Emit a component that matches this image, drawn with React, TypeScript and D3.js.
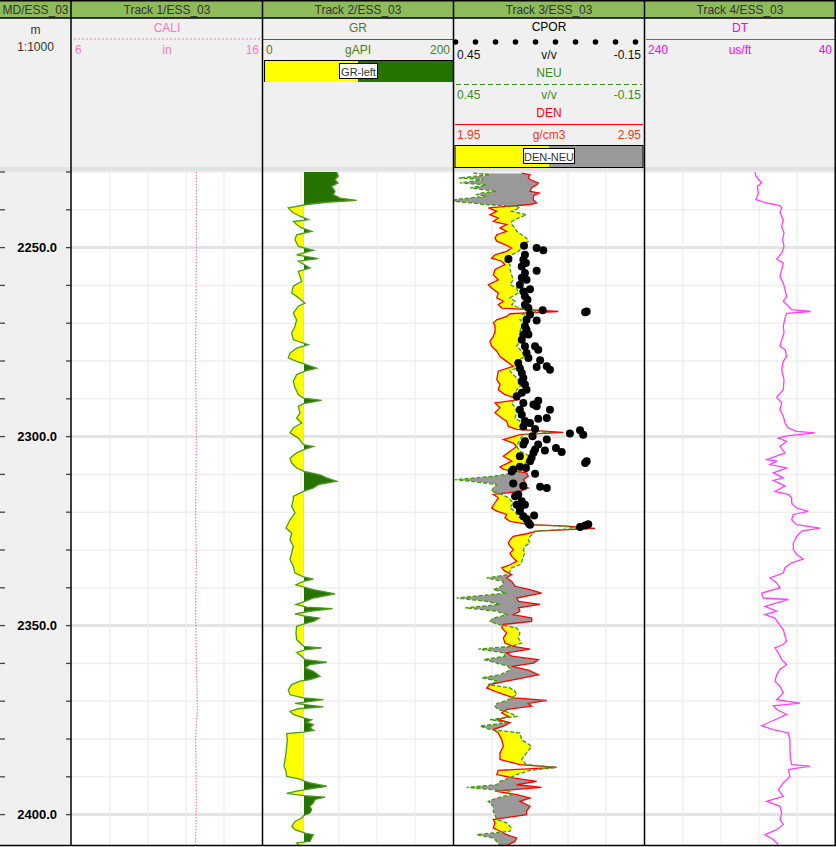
import { useEffect, useRef } from 'react'
import * as d3 from 'd3'

const TITLES = ['MD/ESS_03', 'Track 1/ESS_03', 'Track 2/ESS_03', 'Track 3/ESS_03', 'Track 4/ESS_03']
const DEPTH_LABELS = [2250, 2300, 2350, 2400]
const DEPTH_RANGE = [2230, 2408]

const CALI = [
  [2230, 12.55], [2250, 12.55], [2280, 12.5], [2300, 12.55], [2320, 12.5], [2333, 12.55],
  [2345, 12.5], [2360, 12.55], [2372, 12.6], [2380, 12.5], [2395, 12.55], [2408, 12.5],
]

const GR_CUTOFF = 43
const GR = [
  [2230.0, 77.5], [2231.1, 79.3], [2232.0, 75.8], [2232.9, 79.0], [2233.8, 72.3], [2235.1, 75.8],
  [2236.0, 74.0], [2236.9, 81.0], [2237.5, 98.6], [2238.0, 67.0], [2238.6, 46.0], [2239.5, 26.6],
  [2240.0, 28.4], [2240.8, 31.9], [2241.7, 38.9], [2242.6, 47.7], [2243.1, 31.9], [2243.9, 35.4],
  [2244.8, 40.7], [2245.7, 51.2], [2246.6, 35.4], [2247.9, 33.7], [2249.7, 37.2], [2250.7, 53.0],
  [2251.9, 35.4], [2252.9, 58.2], [2253.6, 37.2], [2255.4, 49.5], [2256.3, 37.2], [2257.6, 38.9],
  [2258.9, 40.7], [2260.2, 31.9], [2262.0, 30.2], [2262.9, 35.4], [2264.7, 44.2], [2265.5, 37.2],
  [2267.3, 31.9], [2269.1, 35.4], [2270.8, 33.7], [2272.6, 30.2], [2274.4, 31.9], [2275.7, 47.7],
  [2276.6, 35.4], [2277.9, 28.4], [2279.2, 26.6], [2280.1, 35.4], [2280.7, 42.5], [2281.9, 56.5],
  [2282.7, 44.2], [2283.6, 35.4], [2285.4, 31.9], [2287.1, 33.7], [2288.9, 37.2], [2289.8, 42.5],
  [2290.4, 61.7], [2291.3, 42.5], [2292.0, 37.2], [2293.8, 38.9], [2295.1, 35.4], [2296.4, 40.7],
  [2297.7, 31.9], [2299.0, 28.4], [2300.4, 37.2], [2302.1, 42.5], [2302.6, 53.0], [2303.5, 42.5],
  [2304.3, 35.4], [2305.7, 28.4], [2307.0, 30.2], [2308.3, 35.4], [2309.2, 43.2], [2310.1, 60.0],
  [2310.9, 67.0], [2311.8, 77.5], [2312.7, 58.2], [2313.6, 53.0], [2314.5, 42.5], [2315.8, 31.9],
  [2316.7, 31.9], [2318.4, 30.2], [2320.2, 33.7], [2322.0, 28.4], [2324.2, 24.2], [2325.5, 30.2],
  [2327.3, 28.4], [2329.0, 31.9], [2330.8, 30.2], [2332.5, 28.4], [2334.3, 31.9], [2336.1, 33.7],
  [2337.1, 42.5], [2337.7, 53.0], [2338.3, 42.5], [2339.2, 34.7], [2339.8, 43.2], [2340.5, 53.0],
  [2341.6, 75.8], [2342.7, 53.0], [2343.6, 44.2], [2344.4, 34.7], [2345.1, 46.0], [2345.5, 73.3],
  [2346.2, 49.5], [2346.9, 33.7], [2347.4, 42.5], [2348.0, 59.3], [2348.9, 53.0], [2349.5, 44.2],
  [2350.2, 35.4], [2352.0, 34.7], [2353.7, 35.4], [2355.0, 40.7], [2355.5, 43.2], [2355.9, 61.7],
  [2356.4, 44.2], [2357.1, 35.4], [2358.1, 40.7], [2359.0, 44.2], [2359.7, 67.0], [2360.3, 49.5],
  [2361.2, 44.2], [2362.1, 53.0], [2363.4, 60.0], [2364.3, 49.5], [2364.7, 38.9], [2365.6, 30.2],
  [2367.0, 26.6], [2368.3, 28.4], [2369.1, 42.5], [2369.6, 63.5], [2370.3, 42.5], [2370.6, 33.7],
  [2371.5, 63.5], [2372.0, 37.2], [2372.7, 28.4], [2373.5, 31.9], [2374.4, 42.5], [2374.9, 51.2],
  [2375.6, 46.0], [2376.2, 53.0], [2377.1, 49.5], [2377.7, 53.7], [2378.2, 42.5], [2378.6, 24.9],
  [2380.2, 25.6], [2381.9, 24.9], [2383.7, 24.2], [2385.4, 23.2], [2387.2, 22.1], [2388.5, 24.2],
  [2389.9, 24.9], [2390.6, 38.9], [2391.2, 44.2], [2391.6, 49.5], [2392.5, 67.0], [2393.2, 49.5],
  [2393.8, 35.4], [2394.4, 24.9], [2395.0, 43.2], [2395.4, 65.3], [2396.0, 54.7], [2396.9, 53.0],
  [2397.8, 49.5], [2398.7, 51.2], [2399.6, 49.5], [2400.3, 42.5], [2400.9, 40.7], [2401.8, 33.7],
  [2403.1, 30.2], [2404.0, 33.7], [2404.9, 44.2], [2405.3, 53.0], [2406.2, 51.2], [2407.1, 49.5],
  [2407.5, 35.4], [2408.4, 38.9],
]

const T3_DEPTH = [
  2230.3, 2230.7, 2231.6, 2232.0, 2232.9, 2233.4, 2234.2, 2235.1, 2235.6, 2236.0, 2236.4, 2237.3,
  2237.8, 2238.2, 2238.6, 2239.1, 2239.5, 2240.4, 2241.3, 2242.2, 2243.1, 2243.9, 2244.8, 2245.7,
  2246.6, 2247.5, 2248.3, 2249.2, 2250.1, 2251.0, 2251.9, 2252.8, 2253.6, 2254.5, 2255.8, 2257.2,
  2258.5, 2259.8, 2260.7, 2262.0, 2263.3, 2264.2, 2265.1, 2266.0, 2266.9, 2267.5, 2268.2, 2269.1,
  2269.9, 2270.8, 2272.2, 2273.5, 2274.8, 2276.1, 2277.4, 2278.8, 2280.1, 2281.4, 2282.7, 2284.9,
  2286.2, 2287.6, 2288.9, 2290.2, 2291.1, 2292.4, 2293.7, 2295.1, 2295.9, 2297.3, 2298.1, 2298.9,
  2299.5, 2300.8, 2301.7, 2302.6, 2303.9, 2305.2, 2306.5, 2308.0, 2308.7, 2309.6, 2310.5, 2311.4,
  2312.1, 2312.7, 2313.6, 2314.5, 2315.3, 2316.2, 2317.5, 2318.9, 2319.7, 2320.6, 2321.5, 2322.4,
  2323.3, 2323.7, 2324.3, 2325.0, 2325.7, 2326.4, 2327.3, 2328.1, 2329.0, 2329.9, 2330.8, 2331.7,
  2333.0, 2333.9, 2334.7, 2335.6, 2336.5, 2337.4, 2338.3, 2339.6, 2340.5, 2341.4, 2342.7, 2343.6,
  2344.4, 2345.3, 2346.2, 2347.1, 2348.0, 2348.9, 2349.7, 2350.6, 2351.9, 2353.3, 2354.6, 2355.5,
  2356.2, 2357.2, 2358.1, 2359.0, 2359.9, 2360.8, 2361.8, 2363.0, 2363.8, 2364.7, 2365.6, 2366.5,
  2367.4, 2368.3, 2369.1, 2369.8, 2370.6, 2371.3, 2372.2, 2373.1, 2374.0, 2374.9, 2375.7, 2376.6,
  2377.5, 2378.4, 2380.2, 2381.9, 2383.7, 2385.4, 2386.8, 2387.5, 2388.3, 2389.4, 2390.3, 2391.2,
  2392.1, 2392.8, 2393.8, 2394.7, 2395.6, 2396.5, 2397.8, 2399.1, 2400.0, 2401.3, 2402.2, 2403.5,
  2404.4, 2405.3, 2406.2, 2407.1, 2408.2,
]

const NEU = [
  0.389, 0.336, 0.436, 0.357, 0.431, 0.347, 0.399, 0.315, 0.368, 0.378, 0.347, 0.447,
  0.450, 0.389, 0.357, 0.252, 0.242, 0.268, 0.221, 0.247, 0.268, 0.268, 0.257, 0.252,
  0.236, 0.221, 0.215, 0.231, 0.236, 0.247, 0.268, 0.284, 0.289, 0.273, 0.273, 0.268,
  0.263, 0.273, 0.252, 0.247, 0.273, 0.257, 0.268, 0.242, 0.178, 0.242, 0.210, 0.242,
  0.231, 0.236, 0.242, 0.231, 0.242, 0.252, 0.236, 0.226, 0.252, 0.242, 0.273, 0.247,
  0.236, 0.252, 0.257, 0.257, 0.268, 0.257, 0.252, 0.257, 0.242, 0.226, 0.221, 0.147,
  0.231, 0.242, 0.247, 0.252, 0.242, 0.210, 0.221, 0.231, 0.215, 0.263, 0.326, 0.447,
  0.368, 0.315, 0.326, 0.331, 0.300, 0.278, 0.263, 0.273, 0.257, 0.252, 0.242, 0.231,
  0.215, 0.105, 0.052, 0.194, 0.199, 0.210, 0.215, 0.210, 0.226, 0.231, 0.226, 0.231,
  0.236, 0.242, 0.268, 0.273, 0.278, 0.347, 0.294, 0.300, 0.326, 0.284, 0.442, 0.347,
  0.305, 0.415, 0.315, 0.284, 0.326, 0.336, 0.310, 0.252, 0.242, 0.247, 0.236, 0.268,
  0.373, 0.294, 0.289, 0.357, 0.315, 0.278, 0.273, 0.305, 0.363, 0.310, 0.342, 0.273,
  0.257, 0.252, 0.268, 0.284, 0.315, 0.321, 0.310, 0.273, 0.252, 0.336, 0.284, 0.368,
  0.336, 0.242, 0.236, 0.205, 0.221, 0.236, 0.221, 0.126, 0.210, 0.252, 0.273, 0.305,
  0.315, 0.410, 0.273, 0.268, 0.315, 0.342, 0.326, 0.326, 0.321, 0.315, 0.284, 0.268,
  0.273, 0.378, 0.326, 0.315, 0.305,
]

const DEN = [
  2.306, 2.350, 2.341, 2.350, 2.394, 2.385, 2.359, 2.350, 2.403, 2.376, 2.368, 2.368,
  2.376, 2.385, 2.350, 2.227, 2.131, 2.175, 2.139, 2.183, 2.157, 2.227, 2.192, 2.227,
  2.175, 2.166, 2.175, 2.218, 2.254, 2.227, 2.166, 2.148, 2.201, 2.218, 2.166, 2.157,
  2.183, 2.131, 2.148, 2.183, 2.175, 2.210, 2.183, 2.201, 2.499, 2.245, 2.227, 2.175,
  2.157, 2.166, 2.166, 2.157, 2.139, 2.148, 2.175, 2.192, 2.227, 2.262, 2.183, 2.175,
  2.192, 2.183, 2.218, 2.297, 2.166, 2.192, 2.166, 2.201, 2.227, 2.236, 2.280, 2.525,
  2.297, 2.210, 2.262, 2.280, 2.245, 2.210, 2.254, 2.192, 2.210, 2.332, 2.341, 2.315,
  2.324, 2.297, 2.341, 2.297, 2.157, 2.183, 2.166, 2.148, 2.175, 2.227, 2.218, 2.245,
  2.350, 2.543, 2.692, 2.385, 2.332, 2.262, 2.245, 2.236, 2.245, 2.262, 2.245, 2.254,
  2.280, 2.245, 2.201, 2.218, 2.254, 2.227, 2.254, 2.271, 2.350, 2.411, 2.280, 2.289,
  2.403, 2.289, 2.297, 2.262, 2.359, 2.359, 2.210, 2.201, 2.227, 2.210, 2.218, 2.262,
  2.350, 2.227, 2.254, 2.394, 2.368, 2.254, 2.341, 2.394, 2.315, 2.227, 2.139, 2.122,
  2.166, 2.218, 2.262, 2.438, 2.341, 2.359, 2.227, 2.201, 2.236, 2.183, 2.245, 2.210,
  2.157, 2.183, 2.201, 2.210, 2.192, 2.192, 2.297, 2.490, 2.183, 2.175, 2.262, 2.385,
  2.280, 2.411, 2.166, 2.280, 2.350, 2.297, 2.350, 2.332, 2.332, 2.157, 2.166, 2.157,
  2.192, 2.227, 2.280, 2.271, 2.227,
]

const CPOR = [
  [2249.5, 0.229], [2250.1, 0.189], [2250.7, 0.168], [2253.0, 0.278], [2251.9, 0.226], [2253.2, 0.231],
  [2254.1, 0.223], [2255.0, 0.236], [2256.1, 0.189], [2256.7, 0.226], [2258.0, 0.236], [2258.5, 0.221],
  [2259.8, 0.242], [2261.0, 0.210], [2261.6, 0.231], [2262.9, 0.226], [2263.8, 0.218], [2265.1, 0.226],
  [2266.0, 0.215], [2266.6, 0.170], [2267.7, 0.210], [2267.1, 0.036], [2266.9, 0.031], [2269.1, 0.221],
  [2269.3, 0.189], [2270.8, 0.226], [2271.7, 0.221], [2273.0, 0.231], [2273.0, 0.215], [2274.4, 0.236],
  [2276.1, 0.226], [2276.1, 0.194], [2277.0, 0.184], [2277.9, 0.221], [2279.2, 0.215], [2279.8, 0.178],
  [2280.5, 0.247], [2281.9, 0.242], [2281.6, 0.189], [2281.4, 0.157], [2282.3, 0.147], [2283.2, 0.236],
  [2284.5, 0.231], [2285.4, 0.236], [2286.2, 0.226], [2287.6, 0.221], [2288.4, 0.236], [2289.3, 0.252],
  [2290.5, 0.184], [2291.1, 0.231], [2291.5, 0.199], [2292.0, 0.189], [2292.9, 0.242], [2292.9, 0.147],
  [2294.2, 0.236], [2295.1, 0.157], [2295.3, 0.184], [2295.9, 0.226], [2296.4, 0.210], [2297.3, 0.231],
  [2298.0, 0.194], [2299.2, 0.084], [2298.3, 0.052], [2299.5, 0.042], [2299.9, 0.202], [2301.2, 0.226],
  [2302.1, 0.231], [2300.8, 0.157], [2302.1, 0.184], [2303.4, 0.194], [2304.3, 0.199], [2303.7, 0.163],
  [2303.0, 0.128], [2304.1, 0.110], [2305.2, 0.242], [2305.6, 0.205], [2306.5, 0.031], [2307.0, 0.036],
  [2306.5, 0.210], [2308.0, 0.242], [2308.3, 0.223], [2308.7, 0.263], [2309.2, 0.268], [2309.8, 0.194],
  [2312.4, 0.263], [2313.1, 0.231], [2313.3, 0.178], [2313.6, 0.157], [2315.3, 0.247], [2315.8, 0.257],
  [2317.1, 0.236], [2318.0, 0.252], [2318.0, 0.226], [2318.9, 0.242], [2319.7, 0.242], [2321.1, 0.231],
  [2320.9, 0.197], [2321.8, 0.221], [2322.8, 0.215], [2323.3, 0.210], [2323.9, 0.052], [2323.5, 0.036],
  [2323.2, 0.026],
]

const DT = [
  [2230.0, 124.2], [2231.1, 123.2], [2232.9, 117.2], [2233.8, 121.8], [2235.6, 120.7], [2237.3, 123.2],
  [2238.2, 111.9], [2238.9, 97.9], [2239.5, 96.1], [2240.8, 97.9], [2242.6, 94.4], [2244.4, 96.1],
  [2246.1, 93.7], [2247.9, 95.1], [2249.7, 93.7], [2251.5, 96.1], [2253.0, 101.4], [2254.1, 94.4],
  [2255.8, 96.1], [2257.6, 97.9], [2259.4, 94.4], [2261.1, 92.6], [2262.9, 90.9], [2264.2, 94.4],
  [2265.5, 89.1], [2266.4, 85.6], [2266.9, 65.6], [2267.4, 90.9], [2268.6, 92.6], [2270.8, 94.4],
  [2272.6, 93.7], [2274.4, 96.1], [2276.1, 97.9], [2277.0, 92.6], [2278.8, 90.9], [2280.1, 94.4],
  [2282.3, 96.1], [2285.0, 93.7], [2287.6, 94.4], [2289.6, 101.4], [2291.1, 96.1], [2292.9, 97.9],
  [2294.6, 94.4], [2296.4, 92.6], [2297.7, 89.1], [2298.6, 80.3], [2299.0, 61.1], [2299.8, 90.9],
  [2300.4, 99.7], [2301.3, 90.9], [2302.6, 97.9], [2304.3, 92.6], [2306.1, 111.9], [2306.5, 101.4],
  [2307.4, 108.4], [2308.3, 90.9], [2309.6, 104.9], [2310.9, 94.4], [2311.6, 104.9], [2313.1, 92.6],
  [2314.5, 103.2], [2315.3, 89.1], [2316.2, 85.6], [2317.6, 85.6], [2318.9, 80.3], [2319.8, 68.1],
  [2320.6, 83.9], [2322.0, 85.6], [2323.3, 80.3], [2324.2, 55.8], [2325.0, 75.1], [2326.4, 80.3],
  [2328.1, 83.9], [2329.9, 83.9], [2331.2, 80.3], [2332.4, 73.3], [2333.4, 85.6], [2334.7, 92.6],
  [2336.1, 94.4], [2337.4, 108.4], [2338.7, 101.4], [2340.0, 97.9], [2341.4, 117.2], [2342.7, 115.4],
  [2343.1, 89.1], [2344.9, 113.7], [2346.2, 101.4], [2347.1, 113.7], [2348.0, 103.2], [2349.3, 99.7],
  [2351.1, 94.4], [2352.8, 92.6], [2354.1, 90.9], [2355.0, 94.4], [2355.9, 103.2], [2357.2, 99.7],
  [2359.0, 96.1], [2360.3, 90.9], [2361.6, 97.9], [2363.0, 101.4], [2364.7, 103.2], [2366.1, 97.9],
  [2367.8, 94.4], [2369.6, 101.4], [2370.5, 76.8], [2371.2, 104.9], [2372.2, 101.4], [2373.5, 90.9],
  [2374.9, 103.2], [2376.5, 117.2], [2377.5, 104.9], [2378.4, 89.1], [2380.2, 87.4], [2382.8, 87.4],
  [2385.4, 86.7], [2386.8, 85.6], [2387.2, 66.3], [2388.1, 89.1], [2389.9, 87.4], [2391.6, 94.4],
  [2393.4, 99.7], [2395.2, 94.4], [2396.5, 111.9], [2397.8, 97.9], [2399.6, 96.1], [2401.3, 97.9],
  [2402.6, 94.4], [2404.0, 101.4], [2405.3, 113.7], [2406.6, 104.9], [2407.9, 99.7],
]

const FONT = '"Liberation Sans", Arial, sans-serif'

export default function App() {
  const svgRef = useRef<SVGSVGElement>(null)

  useEffect(() => {
    const W = 836
    const H = 847
    const titleH = 18
    const headBottom = 167
    const top = 172
    const bottom = 845
    const trackX = [72, 263, 454, 645]
    const tw = 190
    const cx = trackX.map((x) => x + tw / 2)

    const y = d3.scaleLinear().domain(DEPTH_RANGE).range([top, top + (DEPTH_RANGE[1] - DEPTH_RANGE[0]) * 3.78])
    const xCali = d3.scaleLinear().domain([6, 16]).range([trackX[0], trackX[0] + tw])
    const xGR = d3.scaleLinear().domain([0, 200]).range([trackX[1], trackX[1] + tw])
    const xNeu = d3.scaleLinear().domain([0.45, -0.15]).range([trackX[2], trackX[2] + tw])
    const xDen = d3.scaleLinear().domain([1.95, 2.95]).range([trackX[2], trackX[2] + tw])
    const xDT = d3.scaleLinear().domain([240, 40]).range([trackX[3], trackX[3] + tw])

    const svg = d3.select(svgRef.current)
    svg.selectAll('*').remove()
    svg.attr('width', W).attr('height', H)
    const defs = svg.append('defs')

    // backgrounds
    svg.append('rect').attr('width', W).attr('height', H).attr('fill', '#fff')
    svg.append('rect').attr('y', titleH).attr('width', W).attr('height', headBottom - titleH).attr('fill', '#f0f0f0')
    svg.append('rect').attr('y', headBottom).attr('width', W).attr('height', top - headBottom).attr('fill', '#e2e2e2')
    svg.append('rect').attr('y', top).attr('width', 71).attr('height', bottom - top).attr('fill', '#f0f0f0')
    svg.append('rect').attr('width', W).attr('height', titleH).attr('fill', '#8fbc5b')

    const txt = (x, yy, s, color, anchor = 'middle', size = 12, weight = 'normal') =>
      svg.append('text')
        .attr('x', x).attr('y', yy)
        .attr('text-anchor', anchor).attr('dominant-baseline', 'central')
        .attr('font-size', size).attr('font-weight', weight)
        .attr('font-family', FONT).attr('fill', color)
        .text(s)

    // title bar
    const colCenters = [35.5, ...cx]
    TITLES.forEach((t, i) => txt(colCenters[i], 9.5, t, '#333'))

    // grid
    const grid = svg.append('g')
    d3.range(DEPTH_RANGE[0], DEPTH_RANGE[1] + 1, 10).forEach((d) => {
      const major = d % 50 === 0
      grid.append('line')
        .attr('x1', 72).attr('x2', 835).attr('y1', y(d)).attr('y2', y(d))
        .attr('stroke', major ? '#e4e4e4' : '#efefef').attr('stroke-width', major ? 3 : 1.5)
    })
    trackX.forEach((x0) => {
      d3.range(1, 5).forEach((i) => {
        grid.append('line')
          .attr('x1', x0 + i * tw / 5).attr('x2', x0 + i * tw / 5)
          .attr('y1', top).attr('y2', bottom)
          .attr('stroke', '#ececec').attr('stroke-width', 1.2)
      })
    })

    // depth track ticks and labels
    d3.range(DEPTH_RANGE[0], DEPTH_RANGE[1] + 1, 10).forEach((d) => {
      svg.append('line').attr('x1', 0).attr('x2', 5).attr('y1', y(d)).attr('y2', y(d)).attr('stroke', '#444').attr('stroke-width', 1.3)
      svg.append('line').attr('x1', 66).attr('x2', 71).attr('y1', y(d)).attr('y2', y(d)).attr('stroke', '#444').attr('stroke-width', 1.3)
    })
    DEPTH_LABELS.forEach((d) => txt(57, y(d), d.toFixed(1), '#000', 'end', 13, 'bold'))
    txt(35.5, 30, 'm', '#333')
    txt(35.5, 47, '1:1000', '#333')

    // clip per track
    trackX.forEach((x0, i) => {
      defs.append('clipPath').attr('id', `trk${i}`)
        .append('rect').attr('x', x0).attr('y', top).attr('width', tw).attr('height', bottom - top)
    })

    const line = (xs) => d3.line().x((d) => xs(d[1])).y((d) => y(d[0]))

    // Track 1: CALI
    const t1 = svg.append('g').attr('clip-path', 'url(#trk0)')
    t1.append('path').datum(CALI).attr('d', line(xCali)).attr('fill', 'none')
      .attr('stroke', '#f57ab8').attr('stroke-width', 1.2).attr('stroke-dasharray', '1.5,1.5')

    // Track 2: GR with cutoff fill
    const base = xGR(GR_CUTOFF)
    defs.append('clipPath').attr('id', 'grLeft').append('rect')
      .attr('x', trackX[1]).attr('y', top).attr('width', base - trackX[1]).attr('height', bottom - top)
    defs.append('clipPath').attr('id', 'grRight').append('rect')
      .attr('x', base).attr('y', top).attr('width', trackX[1] + tw - base).attr('height', bottom - top)
    const grArea = d3.area().y((d) => y(d[0])).x0(base).x1((d) => xGR(d[1]))
    const t2 = svg.append('g').attr('clip-path', 'url(#trk1)')
    t2.append('path').datum(GR).attr('d', grArea).attr('fill', '#ffff00').attr('clip-path', 'url(#grLeft)')
    t2.append('path').datum(GR).attr('d', grArea).attr('fill', '#267300').attr('clip-path', 'url(#grRight)')
    t2.append('path').datum(GR).attr('d', line(xGR)).attr('fill', 'none').attr('stroke', '#4c9a1e').attr('stroke-width', 1.3)

    // Track 3: DEN-NEU fill, curves, CPOR points
    const t3 = T3_DEPTH.map((d, i) => ({ d, neu: NEU[i], den: DEN[i] }))
    defs.append('clipPath').attr('id', 'neuLeft').append('path')
      .attr('d', d3.area().y((p) => y(p.d)).x0(trackX[2]).x1((p) => xNeu(p.neu))(t3))
    defs.append('clipPath').attr('id', 'neuRight').append('path')
      .attr('d', d3.area().y((p) => y(p.d)).x0((p) => xNeu(p.neu)).x1(trackX[2] + tw)(t3))
    const between = d3.area().y((p) => y(p.d)).x0((p) => xDen(p.den)).x1((p) => xNeu(p.neu))
    const g3 = svg.append('g').attr('clip-path', 'url(#trk2)')
    g3.append('path').datum(t3).attr('d', between).attr('fill', '#ffff00').attr('clip-path', 'url(#neuLeft)')
    g3.append('path').datum(t3).attr('d', between).attr('fill', '#999').attr('clip-path', 'url(#neuRight)')
    g3.append('path').datum(t3)
      .attr('d', d3.line().x((p) => xDen(p.den)).y((p) => y(p.d)))
      .attr('fill', 'none').attr('stroke', '#ff0000').attr('stroke-width', 1.3)
    g3.append('path').datum(t3)
      .attr('d', d3.line().x((p) => xNeu(p.neu)).y((p) => y(p.d)))
      .attr('fill', 'none').attr('stroke', '#3f9a10').attr('stroke-width', 1.3).attr('stroke-dasharray', '4,2')
    g3.selectAll('circle.cpor').data(CPOR).join('circle')
      .attr('class', 'cpor')
      .attr('cx', (d) => xNeu(d[1])).attr('cy', (d) => y(d[0])).attr('r', 4).attr('fill', '#000')

    // Track 4: DT
    const t4 = svg.append('g').attr('clip-path', 'url(#trk3)')
    t4.append('path').datum(DT).attr('d', line(xDT)).attr('fill', 'none').attr('stroke', '#ff40ff').attr('stroke-width', 1.3)

    // ---- headers ----
    const scaleRow = (x0, yy, l, u, r, color) => {
      txt(x0 + 3, yy, l, color, 'start')
      txt(x0 + tw / 2, yy, u, color)
      txt(x0 + tw - 3, yy, r, color, 'end')
    }
    // CALI
    txt(cx[0], 28, 'CALI', '#f77cb9')
    svg.append('line').attr('x1', trackX[0] + 2).attr('x2', trackX[0] + tw - 2).attr('y1', 39).attr('y2', 39)
      .attr('stroke', '#f57ab8').attr('stroke-width', 1.2).attr('stroke-dasharray', '2,2')
    scaleRow(trackX[0], 50, '6', 'in', '16', '#f77cb9')

    // GR
    txt(cx[1], 28, 'GR', '#4f7c1d')
    svg.append('line').attr('x1', trackX[1]).attr('x2', trackX[1] + tw).attr('y1', 39.5).attr('y2', 39.5)
      .attr('stroke', '#2f7a10').attr('stroke-width', 1.2)
    scaleRow(trackX[1], 50, '0', 'gAPI', '200', '#4f7c1d')
    svg.append('rect').attr('x', trackX[1] + 1).attr('y', 60).attr('width', base - trackX[1] + 53).attr('height', 22).attr('fill', '#ffff00')
    svg.append('rect').attr('x', xGR(100)).attr('y', 60).attr('width', trackX[1] + tw - xGR(100)).attr('height', 22).attr('fill', '#267300')
    svg.append('line').attr('x1', trackX[1] + 1.5).attr('x2', trackX[1] + 1.5).attr('y1', 60).attr('y2', 82).attr('stroke', '#000')
    svg.append('line').attr('x1', trackX[1] + 1).attr('x2', trackX[1] + tw).attr('y1', 60.5).attr('y2', 60.5).attr('stroke', '#000')
    svg.append('rect').attr('x', 339.5).attr('y', 63.5).attr('width', 38).attr('height', 15).attr('fill', '#fff').attr('stroke', '#000')
    txt(358.5, 71.5, 'GR-left', '#333', 'middle', 11)

    // CPOR / NEU / DEN
    txt(cx[2], 27, 'CPOR', '#000')
    svg.selectAll('circle.leg').data(d3.range(10)).join('circle')
      .attr('class', 'leg').attr('cx', (i) => trackX[2] + 1.5 + i * 20).attr('cy', 42).attr('r', 2.8).attr('fill', '#000')
    scaleRow(trackX[2], 55, '0.45', 'v/v', '-0.15', '#111')
    txt(cx[2], 73, 'NEU', '#3f8a1c')
    svg.append('line').attr('x1', trackX[2] + 2).attr('x2', trackX[2] + tw - 2).attr('y1', 84.5).attr('y2', 84.5)
      .attr('stroke', '#3f8a1c').attr('stroke-width', 1.2).attr('stroke-dasharray', '5,3')
    scaleRow(trackX[2], 95, '0.45', 'v/v', '-0.15', '#3f8a1c')
    txt(cx[2], 113, 'DEN', '#ff0000')
    svg.append('line').attr('x1', trackX[2] + 1).attr('x2', trackX[2] + tw - 1).attr('y1', 124.5).attr('y2', 124.5)
      .attr('stroke', '#ff0000').attr('stroke-width', 1.2)
    scaleRow(trackX[2], 135, '1.95', 'g/cm3', '2.95', '#f03a1a')
    svg.append('rect').attr('x', trackX[2] + 1).attr('y', 145).attr('width', tw / 2 - 1).attr('height', 22).attr('fill', '#ffff00')
    svg.append('rect').attr('x', cx[2]).attr('y', 145).attr('width', tw / 2 - 1).attr('height', 22).attr('fill', '#999')
    svg.append('rect').attr('x', trackX[2] + 1).attr('y', 145.5).attr('width', tw - 2).attr('height', 22).attr('fill', 'none').attr('stroke', '#000')
    svg.append('rect').attr('x', 523.5).attr('y', 148.5).attr('width', 51).attr('height', 15).attr('fill', '#fff').attr('stroke', '#000')
    txt(549, 156.5, 'DEN-NEU', '#333', 'middle', 11)

    // DT
    txt(cx[3], 28, 'DT', '#f0f')
    svg.append('line').attr('x1', trackX[3] + 1).attr('x2', trackX[3] + tw).attr('y1', 39.5).attr('y2', 39.5)
      .attr('stroke', '#f0f').attr('stroke-width', 1.2)
    scaleRow(trackX[3], 50, '240', 'us/ft', '40', '#f0f')

    // borders
    const b = svg.append('g').attr('stroke', '#000').attr('stroke-width', 1.5)
    ;[71, 262.5, 453.5, 644.5, 835.2].forEach((x) => b.append('line').attr('x1', x).attr('x2', x).attr('y1', 0).attr('y2', bottom + 1))
    b.append('line').attr('x1', 0).attr('x2', W).attr('y1', 0.7).attr('y2', 0.7)
    b.append('line').attr('x1', 0).attr('x2', W).attr('y1', titleH).attr('y2', titleH)
    b.append('line').attr('x1', 0).attr('x2', W).attr('y1', bottom + 0.5).attr('y2', bottom + 0.5)
  }, [])

  return <svg ref={svgRef} style={{ position: 'absolute', left: 0, top: 0, display: 'block' }} />
}
